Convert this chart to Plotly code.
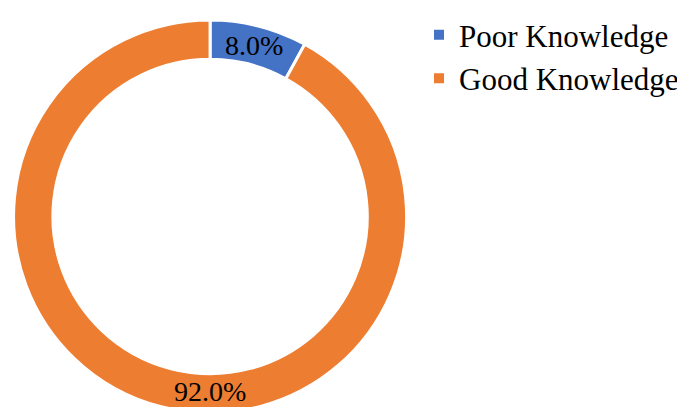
import plotly.graph_objects as go

labels = ["Poor Knowledge", "Good Knowledge"]
values = [8.0, 92.0]
colors = ["#4472C4", "#ED7D31"]

fig = go.Figure(go.Pie(
    labels=labels,
    values=values,
    hole=0.8,
    sort=False,
    direction="clockwise",
    rotation=0,
    marker=dict(colors=colors, line=dict(color="white", width=3)),
    texttemplate="%{value:.1f}%",
    textposition="inside",
    insidetextorientation="horizontal",
    textfont=dict(family="Liberation Serif", size=28, color="black"),
    domain=dict(x=[0.0, 0.59], y=[0.0, 1.0]),
))

fig.update_layout(
    width=685, height=407,
    margin=dict(l=0, r=0, t=2, b=2),
    paper_bgcolor="white",
    uniformtext=dict(minsize=28, mode="show"),
    font=dict(family="Liberation Serif", size=31, color="black"),
    legend=dict(x=0.6, y=1.03, xanchor="left", yanchor="top",
                itemsizing="constant", tracegroupgap=0),
)

fig.write_html("out.html")
